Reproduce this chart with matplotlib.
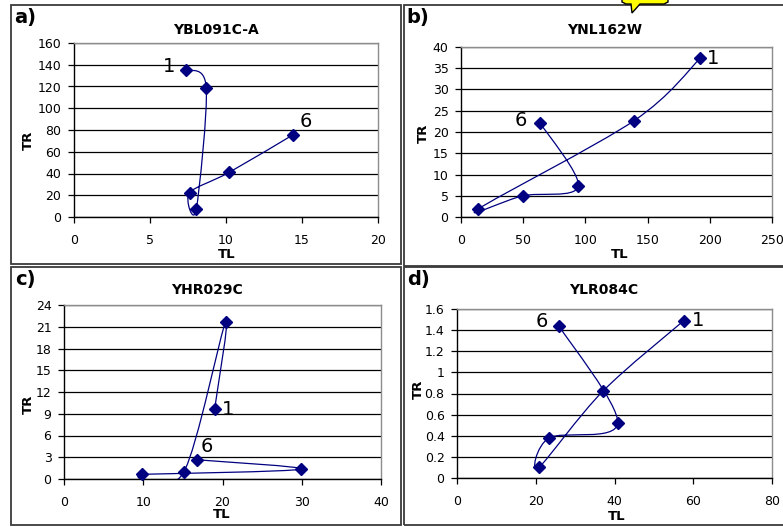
import matplotlib
matplotlib.use("Agg")
import matplotlib.pyplot as plt
import numpy as np
from matplotlib.patches import PathPatch, Rectangle, Polygon
from matplotlib.path import Path

W, H = 783, 527
NAVY = "#000080"

# time points 1..6, (TL, TR) per gene
a_tl = [7.4, 8.7, 8.05, 7.6, 10.2, 14.4]
a_tr = [135.5, 119.0, 7.0, 22.4, 41.0, 75.5]

b_tl = [192.5, 139.3, 14.0, 49.7, 94.2, 63.7]
b_tr = [37.4, 22.7, 1.9, 5.0, 7.2, 22.1]

c_tl = [19.0, 20.4, 15.1, 9.9, 29.9, 16.8]
c_tr = [9.6, 21.7, 0.9, 0.65, 1.35, 2.65]

d_tl = [57.6, 37.0, 20.8, 23.4, 40.8, 25.9]
d_tr = [1.49, 0.82, 0.10, 0.38, 0.52, 1.44]

plt.rcParams["font.family"] = ["DejaVu Sans"]


def fx(px):
    return px / W


def fy(py):
    return 1 - py / H


def smooth_path(xs, ys):
    """Excel-like smoothed line: cubic bezier segments through the points."""
    pts = np.column_stack([xs, ys])
    n = len(pts)
    verts = [pts[0]]
    codes = [Path.MOVETO]
    for i in range(n - 1):
        p0 = pts[max(i - 1, 0)]
        p1 = pts[i]
        p2 = pts[i + 1]
        p3 = pts[min(i + 2, n - 1)]
        verts += [p1 + (p2 - p0) / 6, p2 - (p3 - p1) / 6, p2]
        codes += [Path.CURVE4] * 3
    return Path(verts, codes)


def panel(fig, box, frame, letter, title, title_xy, tr_xy, tl_xy,
          xs, ys, xticks, yticks, lab1, lab6):
    left, right, top, bottom = box
    # panel frame
    fl, fr, ft, fb = frame
    fig.patches.append(Rectangle((fx(fl), fy(fb)), fx(fr - fl), (fb - ft) / H,
                                 transform=fig.transFigure, fill=False,
                                 edgecolor="#3a3a3a", lw=1.3))
    ax = fig.add_axes([fx(left), fy(bottom), fx(right - left), (bottom - top) / H])
    ax.set_xlim(xticks[0], xticks[-1])
    ax.set_ylim(yticks[0], yticks[-1])
    ax.set_xticks(xticks)
    ax.set_yticks(yticks)
    ax.set_yticklabels(["%g" % v for v in yticks])
    ax.yaxis.grid(True, color="black", lw=0.9)
    ax.set_axisbelow(True)
    for s in ("top", "right"):
        ax.spines[s].set_color("#8c8c8c")
        ax.spines[s].set_linewidth(1.0)
    for s in ("left", "bottom"):
        ax.spines[s].set_color("black")
        ax.spines[s].set_linewidth(1.0)
    ax.tick_params(axis="x", direction="out", length=4, width=0.9, pad=8, labelsize=9)
    ax.tick_params(axis="y", direction="out", length=4, width=0.9, pad=5, labelsize=9)

    ax.add_patch(PathPatch(smooth_path(xs, ys), facecolor="none",
                           edgecolor=NAVY, lw=0.9, zorder=3))
    ax.plot(xs, ys, "D", color=NAVY, ms=6.5, zorder=4, clip_on=False)

    ax.annotate("1", (xs[0], ys[0]), xytext=lab1, textcoords="offset pixels",
                ha="center", va="center", fontsize=14)
    ax.annotate("6", (xs[-1], ys[-1]), xytext=lab6, textcoords="offset pixels",
                ha="center", va="center", fontsize=14)

    fig.text(fx(frame[0] + 14), fy(frame[2] + 13), letter, fontsize=14,
             fontweight="bold", ha="center", va="center")
    fig.text(fx(title_xy[0]), fy(title_xy[1]), title, fontsize=10,
             fontweight="bold", ha="center", va="center")
    fig.text(fx(tr_xy[0]), fy(tr_xy[1]), "TR", fontsize=9.5, fontweight="bold",
             rotation=90, ha="center", va="center")
    fig.text(fx(tl_xy[0]), fy(tl_xy[1]), "TL", fontsize=9.5, fontweight="bold",
             ha="center", va="center")
    return ax


fig = plt.figure(figsize=(W / 100, H / 100), dpi=100)

panel(fig, (74, 378, 43, 217), (11, 401, 5, 264), "a)", "YBL091C-A",
      (216, 30), (28, 140), (227, 255), a_tl, a_tr,
      [0, 5, 10, 15, 20], list(range(0, 161, 20)), (-17, 3), (13, 13))
panel(fig, (461, 772, 47, 217), (404, 790, 5, 266), "b)", "YNL162W",
      (605, 30), (423, 133), (620, 255), b_tl, b_tr,
      [0, 50, 100, 150, 200, 250], list(range(0, 41, 5)), (13, 0), (-19, 3))
panel(fig, (64, 381, 305, 479), (11, 401, 267, 525), "c)", "YHR029C",
      (207, 290), (28, 404), (222, 515), c_tl, c_tr,
      [0, 10, 20, 30, 40], list(range(0, 25, 3)), (13, 0), (10, 13))
panel(fig, (457, 772, 309, 478), (404, 790, 267, 525), "d)", "YLR084C",
      (604, 290), (418, 389), (617, 517), d_tl, d_tr,
      [0, 20, 40, 60, 80], [round(0.2 * i, 1) for i in range(9)], (14, 0), (-17, 4))

# clipped yellow callout at the top edge
bubble = [(622, -6), (622, 2), (626, 4), (631, 4), (632, 13), (640, 4),
          (664, 4), (668, 2), (668, -6)]
fig.patches.append(Polygon([(fx(x), fy(y)) for x, y in bubble], closed=True,
                           transform=fig.transFigure, facecolor="#ffff00",
                           edgecolor="black", lw=1.0))

fig.savefig("out.png", dpi=100)
